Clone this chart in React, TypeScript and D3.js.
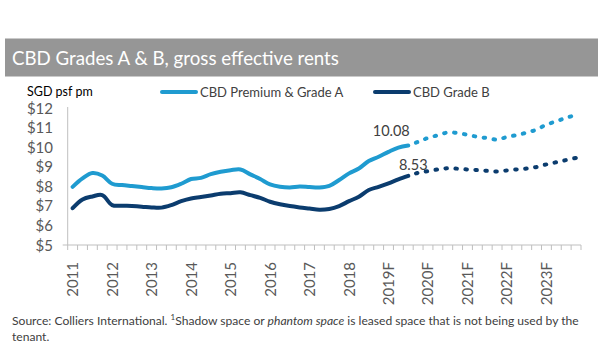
import React from "react";
import * as d3 from "d3";

// Years shown on the axis (one label per year, 4 quarters each)
const yearLabels = ["2011", "2012", "2013", "2014", "2015", "2016", "2017", "2018", "2019F", "2020F", "2021F", "2022F", "2023F"];
const quarters = yearLabels.flatMap((y) => ["Q1", "Q2", "Q3", "Q4"].map((q) => `${y} ${q}`));

// Quarterly rents, SGD psf pm (2011 Q1 .. 2023 Q4)
const premiumA = [
  7.97, 8.4, 8.68, 8.55, 8.13, 8.06, 8.01, 7.96, 7.91, 7.89, 7.95, 8.13, 8.37, 8.43, 8.62, 8.74,
  8.82, 8.86, 8.61, 8.37, 8.1, 7.98, 7.94, 7.99, 7.96, 7.94, 8.02, 8.32, 8.66, 8.91, 9.29, 9.51,
  9.76, 9.98, 10.08, 10.27, 10.47, 10.61, 10.75, 10.72, 10.63, 10.53, 10.46, 10.39, 10.52, 10.62,
  10.74, 10.9, 11.15, 11.32, 11.5, 11.64,
];
const gradeB = [
  6.88, 7.33, 7.48, 7.55, 7.04, 7.01, 6.99, 6.96, 6.92, 6.91, 7.04, 7.24, 7.38, 7.45, 7.53, 7.62,
  7.65, 7.69, 7.55, 7.41, 7.21, 7.08, 6.99, 6.92, 6.86, 6.8, 6.84, 6.99, 7.24, 7.47, 7.81, 7.97,
  8.15, 8.35, 8.53, 8.69, 8.77, 8.86, 8.92, 8.9, 8.86, 8.83, 8.79, 8.76, 8.81, 8.86, 8.91, 8.99,
  9.12, 9.23, 9.34, 9.45,
];
const lastActual = 34; // 2019 Q3, after this the forecast (dotted)
const yTicks = [5, 6, 7, 8, 9, 10, 11, 12];

const series = [
  { name: "CBD Premium & Grade A", values: premiumA, color: "#1f9bd0" },
  { name: "CBD Grade B", values: gradeB, color: "#0b3c6e" },
];

const font = "Lato, 'Open Sans', sans-serif";
const axisGrey = "#bfbfbf";
const textGrey = "#595959";

export default function App() {
  const width = 600;
  const height = 360;
  const left = 67.7;
  const right = 581;
  const top = 108;
  const bottom = 245;

  const x = d3.scaleBand<string>().domain(quarters).range([left, right]).padding(0);
  const y = d3.scaleLinear().domain([5, 12]).range([bottom, top]);
  const cx = (i: number) => (x(quarters[i]) as number) + x.bandwidth() / 2;

  const line = d3
    .line<[number, number]>()
    .x((d) => cx(d[0]))
    .y((d) => y(d[1]))
    .curve(d3.curveCatmullRom.alpha(0.5));

  const pts = (vals: number[]) => vals.map((v, i) => [i, v] as [number, number]);

  return (
    <svg width={width} height={height} style={{ position: "absolute", left: 0, top: 0, background: "#fff" }} fontFamily={font}>
      {/* title band */}
      <rect x={5} y={38.5} width={593} height={38} fill="#969696" />
      <text x={12} y={65} fill="#fff" fontSize={18.7}>
        CBD Grades A &amp; B, gross effective rents
      </text>

      {/* unit + legend */}
      <text x={27} y={96} fontSize={12.5} fill="#000">SGD psf pm</text>
      {series.map((s, k) => {
        const lx = k === 0 ? 160 : 373;
        return (
          <g key={s.name}>
            <line x1={lx + 2} x2={lx + 36} y1={92} y2={92} stroke={s.color} strokeWidth={4} strokeLinecap="round" />
            <text x={lx + 40} y={96.5} fontSize={13} fill="#404040">{s.name}</text>
          </g>
        );
      })}

      {/* y axis */}
      <line x1={left} x2={left} y1={top - 1} y2={bottom} stroke={axisGrey} />
      {yTicks.map((t) => (
        <text key={t} x={53} y={y(t) + 5.5} textAnchor="end" fontSize={15} fill={textGrey}>
          ${t}
        </text>
      ))}

      {/* x axis */}
      <line x1={left - 5} x2={right} y1={bottom} y2={bottom} stroke={axisGrey} />
      {quarters.map((q) => (
        <line key={q} x1={x(q)} x2={x(q)} y1={bottom} y2={bottom + 5} stroke={axisGrey} />
      ))}
      <line x1={right} x2={right} y1={bottom} y2={bottom + 5} stroke={axisGrey} />
      {quarters.map((q, i) =>
        i % 4 === 0 ? (
          <text
            key={q}
            transform={`translate(${cx(i) + 5.5},${262}) rotate(-90)`}
            textAnchor="end"
            fontSize={15}
            fill={textGrey}
          >
            {yearLabels[i / 4]}
          </text>
        ) : null
      )}

      {/* lines: solid actual, dotted forecast */}
      {series.map((s) => {
        const all = pts(s.values);
        return (
          <g key={s.name}>
            <path d={line(all.slice(0, lastActual + 1)) || ""} fill="none" stroke={s.color} strokeWidth={4} strokeLinecap="round" />
            <path
              d={line(all.slice(lastActual)) || ""}
              fill="none"
              stroke={s.color}
              strokeWidth={4}
              strokeLinecap="round"
              strokeDasharray="1.5 8.5"
              strokeDashoffset={-8}
            />
          </g>
        );
      })}

      {/* data labels */}
      <text x={cx(lastActual) - 17} y={136} textAnchor="middle" fontSize={14.5} fill="#404040">
        {premiumA[lastActual].toFixed(2)}
      </text>
      <text x={cx(lastActual) + 5} y={170} textAnchor="middle" fontSize={14.5} fill="#404040">
        {gradeB[lastActual].toFixed(2)}
      </text>

      {/* source */}
      <text x={12} y={325} fontSize={12.1} fill="#404040">
        Source: Colliers International. <tspan fontSize={8} dy={-5}>1</tspan>
        <tspan dy={5}>Shadow space or </tspan>
        <tspan fontStyle="italic">phantom space</tspan> is leased space that is not being used by the
      </text>
      <text x={12} y={341} fontSize={12.1} fill="#404040">tenant.</text>
    </svg>
  );
}
